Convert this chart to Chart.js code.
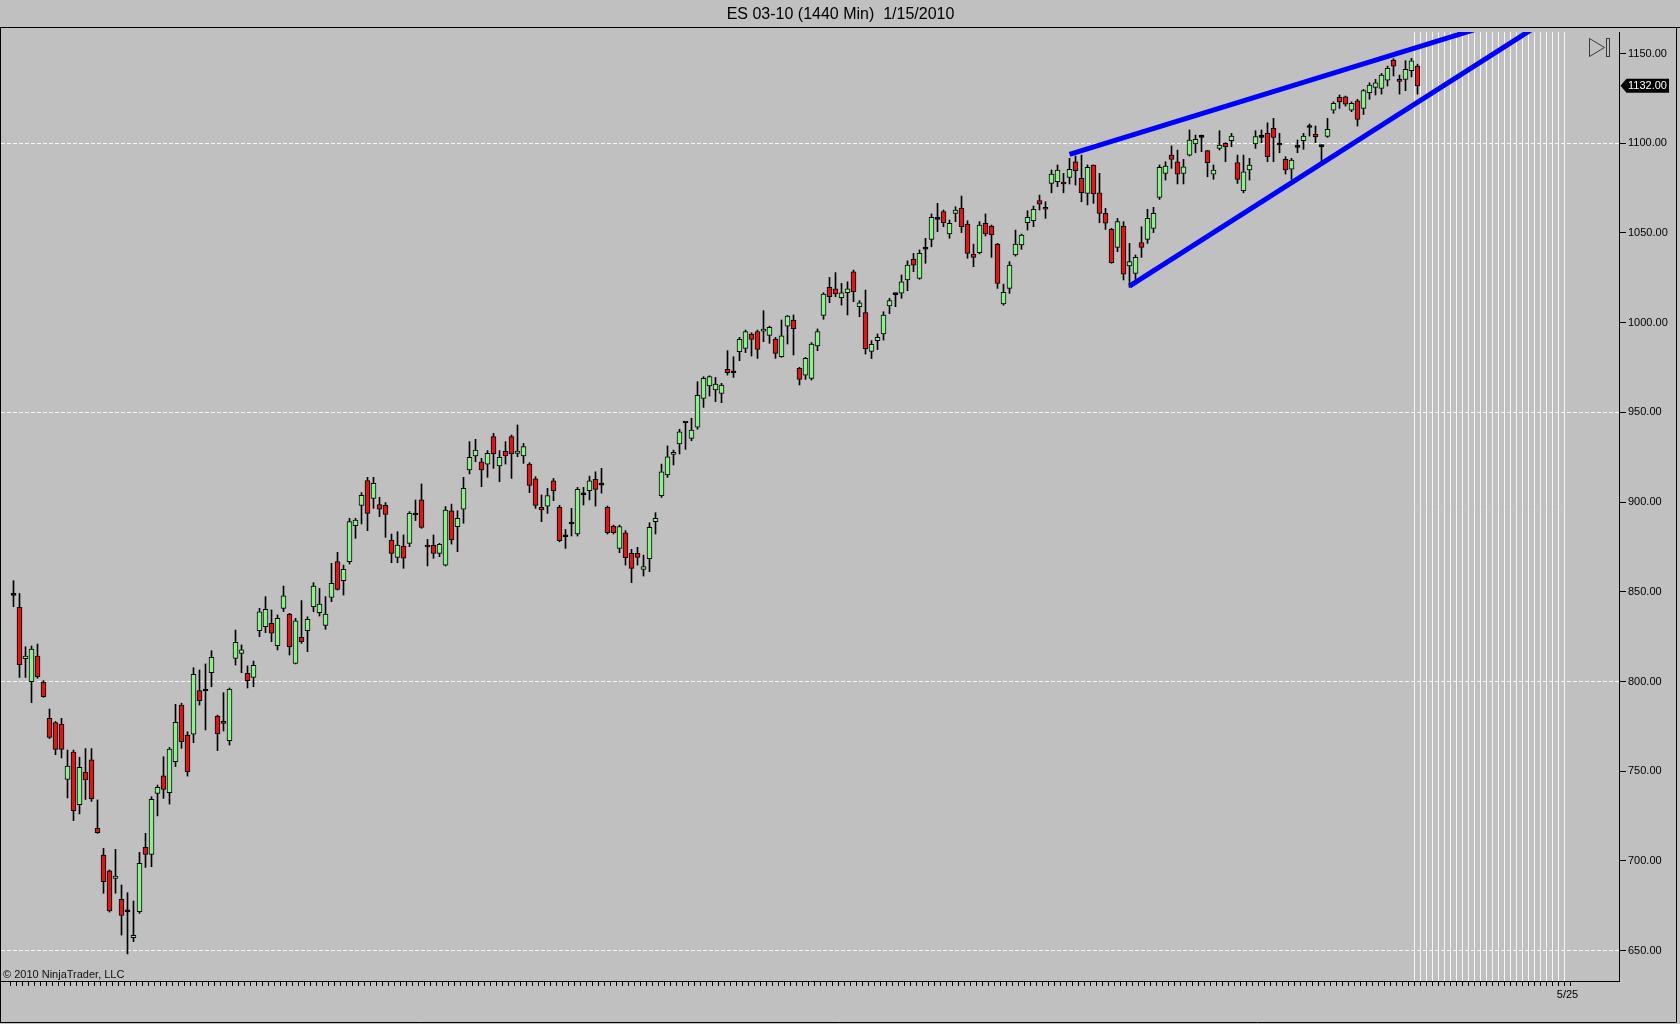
<!DOCTYPE html>
<html><head><meta charset="utf-8">
<script src="https://cdn.jsdelivr.net/npm/chart.js@4.4.1/dist/chart.umd.min.js"></script>
<style>html,body{margin:0;padding:0;background:#c0c0c0;overflow:hidden}canvas{display:block}</style>
</head><body>
<canvas id="c" width="1680" height="1024"></canvas>
<script>
const chartTitle = 'ES 03-10 (1440 Min)  1/15/2010';
const xTickLabels = { 259: '5/25' };
const lastTickIndex = 259;
const firstFutureIndex = 234;
const yTicks = [650, 700, 750, 800, 850, 900, 950, 1000, 1050, 1100, 1150];
const yGridValues = [650, 800, 950, 1100];

const opens = [
848.0,841.3,812.7,799.9,814.2,799.7,779.5,777.1,776.3,745.5,
760.7,731.4,749.4,756.3,718.2,703.3,694.5,690.3,678.6,671.6,
657.3,671.7,707.6,703.7,737.7,747.5,738.1,755.3,786.9,770.2,
770.6,794.9,794.7,804.9,780.8,777.8,767.0,812.9,815.7,804.6,
802.3,828.3,830.6,832.4,820.0,840.8,837.6,810.1,824.6,828.3,
841.7,838.4,831.3,846.9,866.8,856.2,866.8,886.9,898.2,912.0,
902.1,898.6,898.2,878.9,869.2,875.5,877.0,892.8,901.2,875.9,
875.9,871.4,864.9,895.2,886.3,896.0,917.9,925.7,922.5,921.2,
936.5,920.1,928.3,936.5,927.2,925.7,921.2,913.0,897.1,897.8,
911.8,897.1,880.7,887.8,882.2,904.0,906.4,912.7,909.5,897.1,
886.7,874.2,882.9,871.4,871.4,862.5,868.5,889.1,903.6,915.1,
926.6,932.4,944.1,935.5,941.7,957.8,964.7,962.5,960.6,974.0,
972.1,983.8,985.7,993.7,995.0,995.3,992.9,990.9,981.0,998.1,
1001.5,974.5,970.8,969.0,987.0,1004.1,1019.7,1018.9,1013.9,1016.7,
1028.4,1008.9,1005.6,984.0,990.0,993.7,1009.3,1015.6,1016.4,1023.8,
1035.3,1024.7,1040.9,1046.4,1057.6,1061.9,1049.4,1060.9,1063.7,1055.0,
1038.1,1039.0,1055.4,1053.9,1043.8,1010.4,1019.1,1037.7,1043.3,1055.7,
1056.8,1068.0,1064.3,1077.6,1078.6,1078.2,1081.0,1089.7,1080.4,1072.1,
1087.9,1072.4,1060.9,1052.0,1042.0,1053.9,1031.6,1027.5,1044.6,1046.4,
1052.6,1069.8,1083.2,1093.4,1089.7,1083.2,1093.4,1099.6,1103.3,1095.9,
1082.8,1097.1,1099.9,1101.4,1089.2,1073.6,1085.1,1099.6,1103.3,1105.5,
1108.3,1099.0,1091.0,1085.5,1097.7,1101.4,1108.8,1105.1,1098.1,1103.8,
1118.5,1125.6,1125.9,1118.5,1123.7,1119.4,1128.2,1131.1,1130.6,1135.2,
1146.4,1135.6,1135.6,1140.4,1143.0];

const highs = [
856.2,849.1,819.4,819.8,820.9,800.5,784.7,777.8,779.5,761.8,
761.8,757.8,762.6,762.6,734.0,707.0,695.0,706.5,686.6,682.3,
677.7,704.8,715.4,735.8,742.3,758.1,763.3,787.3,787.9,772.0,
807.7,806.4,809.8,817.2,781.3,793.8,796.4,828.7,820.4,808.7,
811.4,840.8,847.3,839.9,837.1,853.2,838.0,835.2,845.1,836.1,
855.1,851.9,847.3,865.9,872.0,864.9,891.0,891.0,905.3,913.8,
913.8,902.7,899.7,882.2,883.5,881.7,894.7,901.2,910.1,879.2,
881.7,877.0,897.5,898.9,895.2,913.8,933.7,935.0,924.4,928.7,
938.3,928.7,933.7,937.4,943.0,932.7,922.0,914.2,904.0,907.7,
913.2,898.2,884.8,896.5,908.2,908.2,914.5,916.9,918.8,897.8,
887.2,887.2,884.1,873.7,874.8,870.5,888.5,894.1,921.2,931.3,
929.0,940.6,944.6,946.7,967.1,969.9,970.4,969.5,966.2,984.4,
981.0,991.8,995.9,994.4,995.9,1006.7,998.1,991.8,1001.5,1004.0,
1004.3,975.1,980.7,988.9,996.5,1016.7,1025.2,1027.9,1021.9,1022.8,
1029.3,1012.3,1018.2,990.0,993.7,1006.1,1013.6,1016.4,1026.6,1034.5,
1038.6,1040.5,1047.0,1060.6,1066.5,1062.8,1057.2,1064.6,1070.6,1056.8,
1043.8,1056.3,1060.6,1054.4,1044.2,1021.5,1034.0,1051.6,1049.4,1062.4,
1065.0,1071.1,1067.4,1085.1,1087.9,1083.2,1091.6,1092.9,1093.4,1087.9,
1087.9,1083.2,1063.7,1052.6,1058.1,1056.3,1044.2,1037.7,1053.5,1063.2,
1064.3,1087.9,1089.7,1098.5,1096.2,1091.0,1107.4,1104.6,1104.6,1095.9,
1087.9,1107.0,1100.3,1105.5,1093.4,1093.4,1091.6,1107.0,1107.4,1111.4,
1113.9,1105.5,1092.5,1091.6,1101.8,1105.5,1110.7,1109.6,1099.0,1113.9,
1123.1,1126.9,1126.3,1123.1,1124.5,1130.0,1133.7,1135.6,1138.9,1143.0,
1147.1,1138.0,1146.0,1147.3,1144.1];

const lows = [
841.7,802.3,802.3,788.2,801.8,791.2,768.2,759.2,757.4,735.1,
722.5,726.2,734.3,733.2,715.4,682.0,671.5,682.0,658.7,648.2,
655.0,670.8,696.4,696.8,725.1,734.9,731.7,752.6,762.8,747.3,
765.9,786.9,773.0,797.1,761.5,772.4,764.6,809.2,804.9,796.4,
797.1,825.0,827.2,822.2,817.6,839.0,814.8,809.8,821.3,816.6,
838.9,836.5,829.1,844.5,851.0,848.2,865.5,879.8,887.8,884.1,
896.5,891.9,880.4,866.2,866.2,863.1,875.2,889.7,885.4,864.4,
868.7,869.6,864.4,876.6,872.4,888.2,915.7,922.5,908.6,913.8,
918.8,911.4,921.2,913.2,925.3,921.6,905.3,896.5,889.1,893.7,
900.8,877.9,874.2,881.1,881.1,898.4,901.2,897.8,905.0,882.2,
882.2,871.8,864.9,855.1,864.9,858.8,861.2,882.2,902.6,913.8,
920.7,926.8,929.4,934.2,940.6,952.8,959.1,956.0,955.4,970.8,
969.5,978.8,983.3,981.4,980.1,989.4,988.5,980.1,980.7,988.1,
982.0,965.3,968.4,968.0,984.4,1001.9,1011.1,1014.5,1009.8,1004.3,
1011.7,1003.3,982.5,980.0,985.0,990.3,1005.0,1008.9,1013.6,1017.8,
1028.4,1024.2,1033.1,1042.3,1050.7,1053.5,1047.0,1056.3,1050.2,1035.9,
1031.2,1038.3,1048.3,1036.4,1019.1,1009.8,1016.3,1037.1,1040.9,1051.6,
1053.5,1062.8,1058.1,1072.4,1075.8,1072.4,1077.3,1076.7,1067.4,1065.6,
1066.5,1055.7,1052.0,1033.1,1039.6,1023.8,1019.7,1024.0,1036.4,1044.2,
1050.2,1068.7,1079.5,1086.0,1077.3,1077.3,1092.9,1094.7,1095.3,1081.3,
1079.9,1096.2,1089.7,1098.1,1077.6,1072.4,1079.5,1097.1,1100.3,1089.7,
1089.7,1094.7,1082.8,1079.9,1094.7,1096.6,1104.0,1100.3,1088.8,1103.3,
1116.7,1119.4,1120.7,1117.6,1109.6,1116.0,1124.5,1126.9,1127.4,1131.9,
1137.5,1127.4,1129.3,1137.0,1127.4];

const closes = [
848.0,809.4,814.2,818.1,802.7,791.5,768.9,762.2,762.2,752.9,
728.0,752.2,745.1,734.7,715.8,688.5,672.1,691.6,669.7,671.6,
658.6,698.7,703.7,734.3,741.0,739.9,762.4,777.3,766.5,749.8,
804.0,789.3,794.7,813.5,770.8,776.7,795.6,821.9,817.6,800.5,
809.0,838.9,840.2,826.9,835.2,847.7,819.4,833.9,822.2,834.7,
853.2,843.2,837.6,854.7,851.4,862.5,889.1,890.0,903.8,893.7,
910.5,896.0,893.2,871.4,876.1,868.7,893.7,892.8,885.9,875.0,
871.4,876.5,895.6,878.9,891.0,907.7,924.9,929.0,917.9,927.2,
926.8,924.9,925.7,926.8,928.4,930.9,909.3,898.2,895.6,903.6,
906.4,878.5,880.7,887.8,907.1,904.0,911.8,907.1,909.5,883.0,
883.0,886.3,869.0,863.1,869.2,864.0,885.9,890.9,916.9,925.3,
927.7,939.2,944.1,940.2,959.5,969.0,969.9,965.8,965.2,972.1,
972.1,990.7,995.0,990.7,985.1,996.5,997.4,982.9,992.6,1003.7,
996.6,968.4,980.1,988.1,995.0,1016.0,1014.5,1016.0,1016.7,1018.9,
1017.3,1011.1,985.5,988.0,991.8,1004.3,1012.3,1015.6,1022.8,1032.1,
1032.1,1038.6,1040.9,1058.7,1057.6,1055.7,1055.3,1062.8,1053.5,1038.6,
1036.4,1054.4,1049.4,1048.9,1021.9,1016.9,1032.1,1043.8,1048.8,1058.7,
1063.2,1066.1,1063.2,1082.8,1085.1,1077.3,1085.5,1084.7,1072.4,1086.6,
1071.7,1060.9,1055.4,1033.4,1056.3,1027.1,1034.0,1036.4,1042.0,1058.1,
1060.9,1086.6,1087.3,1091.0,1082.8,1086.9,1101.8,1102.2,1103.3,1089.2,
1085.1,1099.0,1098.1,1104.0,1079.9,1084.1,1087.9,1103.7,1103.3,1092.5,
1103.3,1099.0,1085.1,1090.6,1097.7,1104.0,1108.8,1103.7,1098.1,1107.7,
1122.2,1123.1,1121.8,1122.2,1113.3,1129.3,1132.4,1133.7,1138.0,1141.7,
1143.0,1134.5,1141.2,1146.0,1132.0];

// hand-drawn trend lines (bar index, price)
const upperTrendX = [176, 250];
const upperTrendY = [1093.8, 1170.0];
const lowerTrendX = [186, 260];
const lowerTrendY = [1020.4, 1178.3];

const UP = '#90ee90', DOWN = '#d41a1a', FLAT = '#000000';

const bodyData = opens.map((o, i) => ({ x: i, y: [o, closes[i]] }));
const wickData = lows.map((l, i) => ({ x: i, y: [l, highs[i]] }));
const bodyColors = opens.map((o, i) => closes[i] > o ? UP : (closes[i] < o ? DOWN : FLAT));
const upperLine = upperTrendX.map((x, i) => ({ x, y: upperTrendY[i] }));
const lowerLine = lowerTrendX.map((x, i) => ({ x, y: lowerTrendY[i] }));

const isInt = v => Math.abs(v - Math.round(v)) < 1e-6;

const decorPlugin = {
  id: 'decor',
  beforeDraw(chart) {
    const ctx = chart.ctx;
    ctx.save();
    ctx.fillStyle = '#c0c0c0';
    ctx.fillRect(0, 0, chart.width, chart.height);
    ctx.restore();
  },
  afterDraw(chart) {
    const ctx = chart.ctx;
    const y = chart.scales.y;
    const area = chart.chartArea;
    ctx.save();
    ctx.strokeStyle = '#000';
    ctx.lineWidth = 1;
    ctx.beginPath();
    ctx.moveTo(0, 27.5); ctx.lineTo(1680, 27.5);
    ctx.moveTo(0.5, 27.5); ctx.lineTo(0.5, 1022.5);
    ctx.moveTo(0, 1022.5); ctx.lineTo(1676.5, 1022.5);
    ctx.moveTo(1676.5, 27.5); ctx.lineTo(1676.5, 1022.5);
    ctx.stroke();
    ctx.fillStyle = '#111';
    ctx.font = '11px "Liberation Sans", Arial, sans-serif';
    ctx.textBaseline = 'alphabetic';
    ctx.textAlign = 'left';
    ctx.fillText('\u00A9 2010 NinjaTrader, LLC', 3, area.bottom - 3);
    ctx.strokeStyle = '#3a3a3a';
    ctx.beginPath();
    ctx.moveTo(1589.5, 38.5); ctx.lineTo(1589.5, 56.5); ctx.lineTo(1604.5, 47.5); ctx.closePath();
    ctx.stroke();
    ctx.strokeRect(1606.5, 38.5, 3, 18);
    const last = closes[closes.length - 1];
    const py = y.getPixelForValue(last);
    ctx.fillStyle = '#000';
    ctx.beginPath();
    ctx.moveTo(area.right + 1.5, py);
    ctx.lineTo(area.right + 7.5, py - 7);
    ctx.lineTo(1669, py - 7);
    ctx.lineTo(1669, py + 7);
    ctx.lineTo(area.right + 7.5, py + 7);
    ctx.closePath();
    ctx.fill();
    ctx.fillStyle = '#fff';
    ctx.textBaseline = 'middle';
    ctx.fillText(last.toFixed(2), area.right + 9, py + 0.5);
    ctx.restore();
  }
};

new Chart(document.getElementById('c'), {
  type: 'bar',
  data: {
    datasets: [
      { type: 'line', data: upperLine, borderColor: '#0000ff', borderWidth: 5, pointRadius: 0, fill: false, clip: 0, order: -2 },
      { type: 'line', data: lowerLine, borderColor: '#0000ff', borderWidth: 5, pointRadius: 0, fill: false, clip: 0, order: -1 },
      { data: bodyData, backgroundColor: bodyColors, borderColor: '#000', borderWidth: 1, borderSkipped: false,
        barThickness: 5, minBarLength: 2, grouped: false, order: 1 },
      { data: wickData, backgroundColor: '#000', borderWidth: 0, barThickness: 1, grouped: false, order: 2 }
    ]
  },
  options: {
    responsive: false,
    devicePixelRatio: 1,
    animation: false,
    events: [],
    layout: { padding: { left: 1, right: 0, top: 0, bottom: 0 } },
    plugins: {
      legend: { display: false },
      tooltip: { enabled: false },
      title: {
        display: true, text: chartTitle, color: '#000',
        font: { family: '"Liberation Sans", Arial, sans-serif', size: 16, weight: 'normal' },
        padding: { top: 5, bottom: 7.8 }
      }
    },
    scales: {
      x: {
        type: 'linear', position: 'bottom', offset: false,
        min: -2.0833, max: 267.5833,
        afterFit: s => { s.height = 43; },
        afterBuildTicks: s => { s.ticks = s.ticks.filter(t => isInt(t.value) && t.value >= 0 && t.value <= lastTickIndex); },
        ticks: {
          stepSize: 1, autoSkip: false, maxRotation: 0, minRotation: 0, padding: 2, color: '#000',
          font: { family: '"Liberation Sans", Arial, sans-serif', size: 11 },
          callback: v => xTickLabels[Math.round(v)] || ''
        },
        grid: {
          drawOnChartArea: true, drawTicks: true, tickLength: 5, tickColor: '#000', lineWidth: 1,
          color: c => (c.tick && c.tick.value >= firstFutureIndex && c.tick.value <= lastTickIndex) ? 'rgba(255,255,255,0.85)' : 'rgba(0,0,0,0)'
        },
        border: { display: true, color: '#000', width: 1 }
      },
      y: {
        type: 'linear', position: 'right',
        min: 633.1, max: 1162,
        afterFit: s => { s.width = 61; },
        afterBuildTicks: s => { s.ticks = yTicks.map(v => ({ value: v })); },
        ticks: {
          stepSize: 50, padding: 2, color: '#000',
          font: { family: '"Liberation Sans", Arial, sans-serif', size: 11 },
          callback: v => Number(v).toFixed(2)
        },
        grid: {
          drawOnChartArea: true, drawTicks: true, tickLength: 7, tickColor: '#000', lineWidth: 1,
          color: c => (c.tick && yGridValues.includes(c.tick.value)) ? 'rgba(250,250,250,0.95)' : 'rgba(0,0,0,0)'
        },
        border: { display: true, color: '#000', width: 1, dash: [4, 2] }
      }
    }
  },
  plugins: [decorPlugin]
});
</script>
</body></html>
